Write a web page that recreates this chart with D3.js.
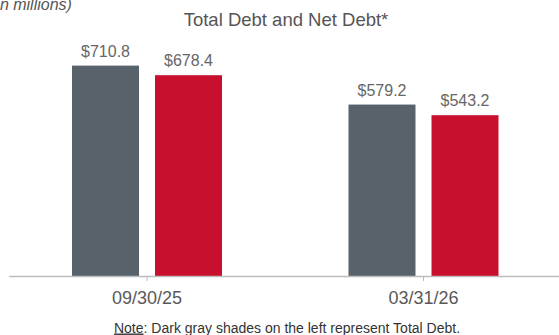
<!DOCTYPE html>
<html>
<head>
<meta charset="utf-8">
<script src="https://cdn.jsdelivr.net/npm/d3@7"></script>
<style>
  body { margin: 0; background: #fff; }
  svg { display: block; font-family: "Liberation Sans", Arial, sans-serif; }
</style>
</head>
<body>
<div class="graph"></div>
<script>
// data
const dates = ["09/30/25", "03/31/26"];
const seriesNames = ["Total Debt", "Net Debt"];
const totalDebt = [710.8, 579.2];
const netDebt = [678.4, 543.2];
const colors = ["#58626b", "#c8102e"];

function debt_chart() {
    let width = 559, height = 335;
    let baseline = 276;

    let svg = d3.select(".graph").append("svg")
        .attr("width", width)
        .attr("height", height);

    let rows = dates.map((d, i) => ({date: d, values: [totalDebt[i], netDebt[i]]}));

    // groups
    let x0 = d3.scaleBand()
        .domain(dates)
        .range([8.75, 561.75])
        .padding(0);

    // bars inside a group
    let x1 = d3.scaleBand()
        .domain(seriesNames)
        .range([-75, 75])
        .paddingInner(0.193)
        .paddingOuter(0);

    let y = d3.scaleLinear()
        .domain([0, 800])
        .range([baseline, baseline - 800 * 0.296]);

    let groups = svg.selectAll(".grp")
        .data(rows)
        .enter().append("g")
        .attr("class", "grp")
        .attr("transform", d => "translate(" + (x0(d.date) + x0.bandwidth() / 2) + ",0)");

    groups.selectAll("rect")
        .data(d => d.values.map((v, i) => ({name: seriesNames[i], v: v, i: i})))
        .enter().append("rect")
        .attr("x", d => x1(d.name))
        .attr("y", d => y(d.v))
        .attr("width", x1.bandwidth())
        .attr("height", d => y(0) - y(d.v))
        .attr("fill", d => colors[d.i]);

    groups.selectAll(".val")
        .data(d => d.values.map((v, i) => ({name: seriesNames[i], v: v})))
        .enter().append("text")
        .attr("class", "val")
        .attr("x", d => x1(d.name) + x1.bandwidth() / 2)
        .attr("y", d => y(d.v) - 9)
        .attr("text-anchor", "middle")
        .attr("fill", "#666")
        .style("font-size", "16px")
        .text(d => "$" + d3.format(".1f")(d.v));

    // x axis
    let axis = svg.append("g")
        .attr("transform", "translate(0," + baseline + ")")
        .call(d3.axisBottom(x0).tickSize(5).tickSizeOuter(0).tickPadding(10));
    axis.select(".domain").attr("stroke", "#bdbdbd").style("stroke-width", "1.5px");
    axis.selectAll(".tick line").attr("stroke", "#bdbdbd");
    axis.selectAll(".tick text")
        .attr("fill", "#595959")
        .style("font-size", "18px")
        .style("font-family", "\"Liberation Sans\", Arial, sans-serif");

    // title and notes
    svg.append("text")
        .attr("x", 286)
        .attr("y", 26)
        .attr("text-anchor", "middle")
        .attr("fill", "#555")
        .style("font-size", "18.5px")
        .text("Total Debt and Net Debt*");

    svg.append("text")
        .attr("x", -9)
        .attr("y", 10)
        .attr("fill", "#555")
        .style("font-size", "16px")
        .style("font-style", "italic")
        .text("(in millions)");

    let note = svg.append("text")
        .attr("x", 287)
        .attr("y", 332.5)
        .attr("text-anchor", "middle")
        .attr("fill", "#333")
        .style("font-size", "14px");
    note.append("tspan").style("text-decoration", "underline").text("Note");
    note.append("tspan").text(": Dark gray shades on the left represent Total Debt.");
}

debt_chart();
</script>
</body>
</html>
